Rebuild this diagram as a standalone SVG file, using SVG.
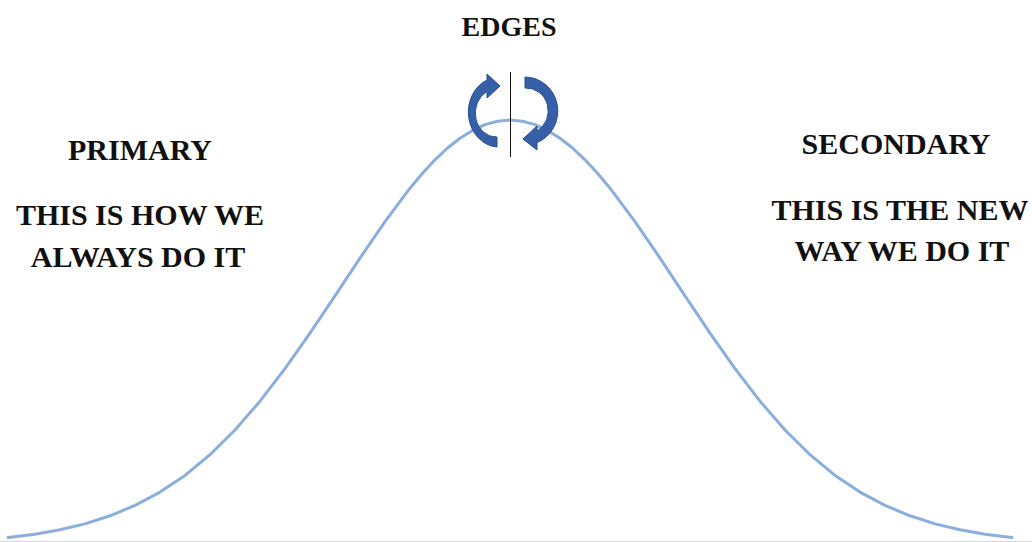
<svg xmlns="http://www.w3.org/2000/svg" width="1032" height="542" viewBox="0 0 1032 542">
<style>
.t{font-family:"Liberation Serif","Times New Roman",serif;font-weight:bold;fill:#111;text-anchor:middle}
.curve{fill:none;stroke:#8AAEDD;stroke-width:3;stroke-linejoin:round;stroke-linecap:round}
.arr{fill:#3560A8;stroke:#2A4F8F;stroke-width:1;stroke-linejoin:round}
</style>
<rect width="1032" height="542" fill="#fff"/>
<g id="connectors">
<line x1="0" y1="541.5" x2="1032" y2="541.5" stroke="#D6D6D6" stroke-width="1"/>
<path class="curve" d="M8,537.5 L35,534.3 L60,529.8 L85,523.9 L110,515.8 L135,505.4 L160,492.1 L185,475.4 L210,454.7 L235,430 L260,401.2 L285,368.7 L310,333.2 L335,295.8 L360,258.1 L385,221.6 L410,188.2 L422.5,173.3 L435,159.8 L447.5,148 L460,138.2 L472.5,130.4 L485,124.6 L497.5,121.2 L510,120 L522.5,121.2 L535,124.6 L547.5,130.4 L560,138.2 L572.5,148 L585,159.8 L597.5,173.3 L610,188.2 L635,221.6 L660,258.1 L685,295.8 L710,333.2 L735,368.7 L760,401.2 L785,430 L810,454.7 L835,475.4 L860,492.1 L885,505.4 L910,515.8 L935,523.9 L960,529.8 L985,534.3 L1012,537.5"/>
<path id="arrow-left" class="arr" d="M497,147 A31,35 0 0 1 487,80 L487,74 L500,86 L487,98 L487,91.5 A21,24 0 0 0 497,137 Z"/>
<path id="arrow-right" class="arr" d="M525,77 A33,34 0 0 1 537,142.6 L537,150 L523,139 L537,126 L537,131 A22,23 0 0 0 525,88 Z"/>
<line x1="510.5" y1="72" x2="510.5" y2="157" stroke="#111" stroke-width="1"/>
</g>
<g id="edges"><text class="t" x="509" y="36" font-size="28">EDGES</text></g>
<g id="primary">
<text class="t" x="140" y="160" font-size="30">PRIMARY</text>
<text class="t" x="140" y="225" font-size="30">THIS IS HOW WE</text>
<text class="t" x="138" y="267" font-size="30">ALWAYS DO IT</text>
</g>
<g id="secondary">
<text class="t" x="896" y="154" font-size="30">SECONDARY</text>
<text class="t" x="900" y="220" font-size="30">THIS IS THE NEW</text>
<text class="t" x="902" y="261" font-size="30">WAY WE DO IT</text>
</g>
</svg>
